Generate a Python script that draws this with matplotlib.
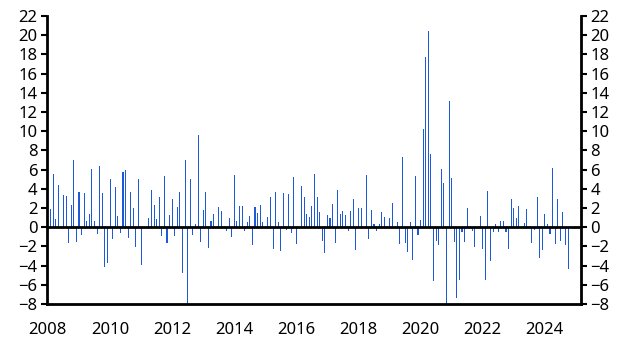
import matplotlib
matplotlib.use("Agg")
import matplotlib.pyplot as plt
import numpy as np

# monthly values, Jan 2008 - Oct 2024
values = [
    0.0, 1.9, 5.5, 0.85, 4.4, 0.0, 3.35, 3.25, -1.6, 2.3, 7.0, -1.5,
    3.65, -0.8, 3.55, 0.65, 1.4, 6.05, 0.65, -0.7, 6.35, 3.55, -4.1, -3.7,
    5.0, -1.2, 4.2, 1.15, -0.6, 5.75, 5.95, -1.1, 3.65, 2.0, -2.05, 5.0,
    -3.9, 0.0, 0.0, 0.95, 3.9, 2.3, 0.85, 3.15, -0.9, 5.35, -1.7, 1.25,
    2.95, -0.9, 2.1, 3.65, -4.75, 7.0, -8.5, 5.0, -0.8, 0.35, 9.6, -1.55,
    1.8, 3.65, -2.15, 0.65, 1.4, 0.0, 2.1, 1.7, 0.0, -0.4, 0.95, -1.0,
    5.45, 0.65, 2.2, 2.2, -0.4, 0.55, 1.15, -1.85, 2.1, 1.5, 2.3, 0.55,
    0.0, 1.05, 3.15, -2.25, 3.65, 0.55, -2.5, 3.55, -0.3, 3.45, -0.6, 5.25,
    -1.75, 0.0, 4.3, 3.15, 1.4, 1.05, 2.2, 5.55, 3.15, 1.6, -1.45, -2.7,
    1.25, 0.95, 2.4, -1.65, 3.9, 1.4, 1.7, 1.25, -0.4, 1.7, 2.95, -2.4,
    2.0, 2.0, 0.0, 5.45, -1.25, 1.8, 0.35, -0.4, 0.35, 1.6, 1.05, 0.0,
    0.95, 2.5, 0.0, 0.55, -1.75, 7.3, -1.65, -2.6, 0.55, -3.4, 5.35, -0.8,
    0.75, 10.2, 17.7, 20.4, 7.6, -5.6, -1.45, -1.85, 6.05, 4.6, -8.5, 13.15,
    5.1, -1.55, -7.4, -5.5, -0.5, -1.55, 2.0, 0.0, -0.4, -2.05, 0.0, 1.15,
    -2.25, -5.5, 3.8, -3.5, -0.5, 0.35, -0.5, 0.65, 0.65, -0.5, -2.25, 2.95,
    2.0, 0.95, 2.2, 0.0, 0.45, 1.9, 0.0, -1.65, -0.3, 3.15, -3.2, -2.4,
    1.4, 0.35, -0.7, 6.15, -1.75, 2.95, -1.45, 1.6, -1.85, -4.35,
]
dates = 2008 + np.arange(len(values)) / 12.0

y_ticks = list(range(-8, 23, 2))
x_ticks = list(range(2008, 2025, 2))

plt.rcParams['font.family'] = ['Noto Sans', 'DejaVu Sans']

fig = plt.figure(figsize=(6.3, 3.64), dpi=100)
ax = fig.add_axes([0.0746, 0.165, 0.8474, 0.791])

ax.bar(dates, values, width=0.034, color='#1f5ad6', linewidth=0, zorder=2)
ax.axhline(0, color='black', linewidth=2, zorder=3)

ax.set_xlim(2007.97, 2025.16)
ax.set_ylim(-8, 22)

ax.spines['top'].set_visible(False)
for s in ['left', 'right', 'bottom']:
    ax.spines[s].set_linewidth(2)
    ax.spines[s].set_color('black')

ax.set_yticks(y_ticks)
ax.tick_params(axis='y', which='both', left=True, right=True,
               labelleft=True, labelright=True, direction='out',
               length=4, width=1.5, labelsize=12, pad=3)
ax.set_xticks(x_ticks)
ax.tick_params(axis='x', length=0, labelsize=12, pad=13)

fig.savefig('out.png', dpi=100)
